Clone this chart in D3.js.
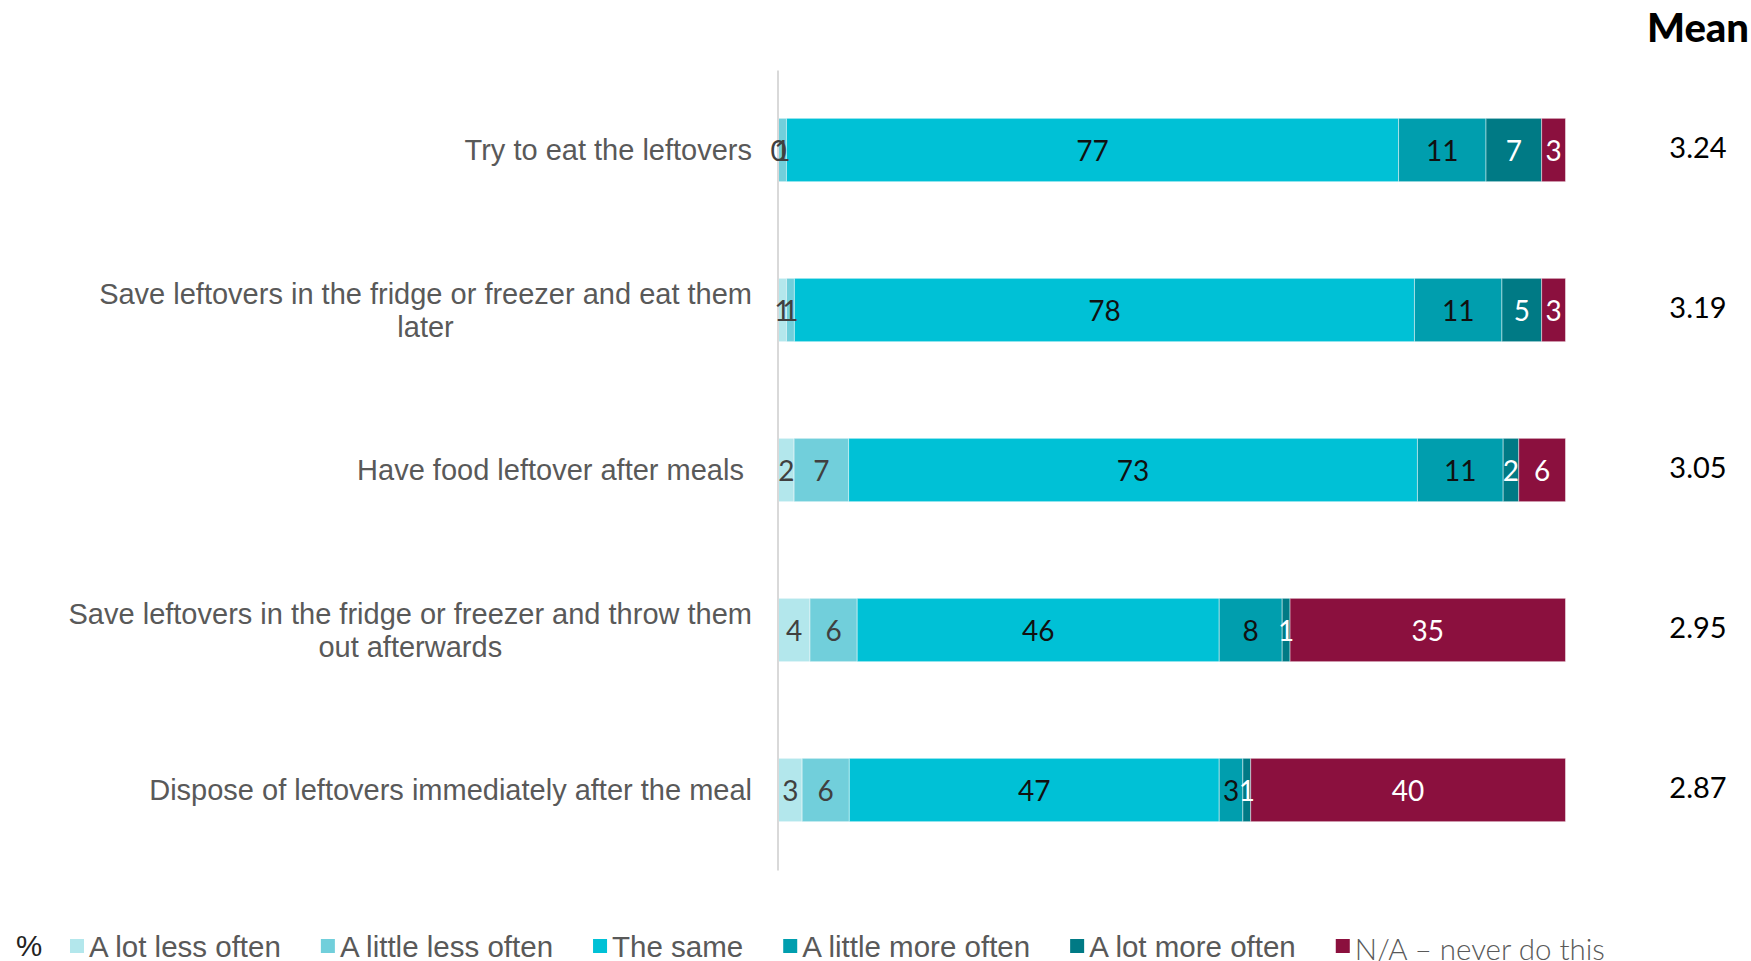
<!DOCTYPE html>
<html>
<head>
<meta charset="utf-8">
<script src="https://cdn.jsdelivr.net/npm/d3@7"></script>
<style>
  html, body { margin: 0; padding: 0; background: #fff; }
  svg { display: block; }
  .cat text { white-space: pre; }
</style>
</head>
<body>
<svg id="chart" width="1751" height="961"></svg>
<script>
// Behaviours asked about, with their answers split by frequency change (%)
const categories = [
  "Try to eat the leftovers",
  "Save leftovers in the fridge or freezer and eat them\nlater",
  "Have food leftover after meals ",
  "Save leftovers in the fridge or freezer and throw them\nout afterwards",
  "Dispose of leftovers immediately after the meal"
];
const seriesNames = [
  "A lot less often",
  "A little less often",
  "The same",
  "A little more often",
  "A lot more often",
  "N/A \u2013 never do this"
];
const aLotLess   = [0, 1, 2, 4, 3];
const aLittleLess = [1, 1, 7, 6, 6];
const theSame    = [77, 78, 73, 46, 47];
const aLittleMore = [11, 11, 11, 8, 3];
const aLotMore   = [7, 5, 2, 1, 1];
const notApplicable = [3, 3, 6, 35, 40];
const means = ["3.24", "3.19", "3.05", "2.95", "2.87"];

const seriesValues = [aLotLess, aLittleLess, theSame, aLittleMore, aLotMore, notApplicable];
const colors = ["#b3e7ec", "#71cfdb", "#00c1d6", "#009eae", "#007a85", "#8b103e"];
const labelColors = ["#404040", "#404040", "#111111", "#111111", "#ffffff", "#ffffff"];

const rows = categories.map((c, i) => {
  const r = { category: c };
  seriesNames.forEach((s, j) => { r[s] = seriesValues[j][i]; });
  return r;
});

const stack = d3.stack().keys(seriesNames).offset(d3.stackOffsetExpand);
const layers = stack(rows);

const svg = d3.select("#chart");

const x = d3.scaleLinear().domain([0, 1]).range([778.5, 1565.5]);
const y = d3.scaleBand().domain(categories).range([70, 870]).paddingInner(0.604).paddingOuter(0.302);

// Bars
const layerG = svg.append("g").selectAll("g")
  .data(layers).join("g")
  .attr("fill", (d, i) => colors[i]);

layerG.selectAll("rect")
  .data(d => d.map(v => ({ v, key: d.key })))
  .join("rect")
  .attr("x", d => x(d.v[0]))
  .attr("width", d => Math.max(0, x(d.v[1]) - x(d.v[0])))
  .attr("y", d => y(d.v.data.category))
  .attr("height", y.bandwidth())
  .attr("stroke", "#ffffff")
  .attr("stroke-opacity", 0.45)
  .attr("stroke-width", 1);

// Axis line on the left of the bars
svg.append("g")
  .attr("transform", `translate(${x(0) - 1},0)`)
  .call(d3.axisLeft(d3.scaleLinear().range([70, 870])).ticks(0).tickSize(0))
  .call(g => g.select(".domain").attr("stroke", "#d9d9d9").attr("stroke-width", 2));

// Value labels inside segments
layers.forEach((layer, i) => {
  svg.append("g").selectAll("text")
    .data(layer).join("text")
    .attr("x", d => (x(d[0]) + x(d[1])) / 2)
    .attr("y", d => y(d.data.category) + y.bandwidth() / 2)
    .attr("text-anchor", "middle")
    .attr("dominant-baseline", "central")
    .attr("font-family", "Lato, 'Open Sans', sans-serif")
    .attr("font-size", 28)
    .attr("fill", labelColors[i])
    .text(d => d.data[layer.key]);
});

// Category labels (right aligned block, lines centred)
const catG = svg.append("g")
  .attr("class", "cat")
  .attr("font-family", "'Liberation Sans', Arial, sans-serif")
  .attr("font-size", 29)
  .attr("fill", "#595959");

categories.forEach(c => {
  const lines = c.split("\n");
  const cy = y(c) + y.bandwidth() / 2;
  const lh = 33;
  const t = catG.append("text")
    .attr("dominant-baseline", "central");
  lines.forEach((ln, k) => {
    t.append("tspan").attr("y", cy + (k - (lines.length - 1) / 2) * lh).text(ln);
  });
  const tspans = t.selectAll("tspan").nodes();
  const maxW = d3.max(tspans, n => n.getComputedTextLength());
  const right = 752;
  tspans.forEach(n => {
    d3.select(n).attr("x", right - maxW / 2).attr("text-anchor", "middle");
  });
});

// Mean column
svg.append("text")
  .attr("x", 1749)
  .attr("y", 27)
  .attr("text-anchor", "end")
  .attr("dominant-baseline", "central")
  .attr("font-family", "Lato, sans-serif")
  .attr("font-weight", 900)
  .attr("font-size", 40)
  .attr("fill", "#000")
  .text("Mean");

svg.append("g").selectAll("text")
  .data(categories).join("text")
  .attr("x", 1698)
  .attr("y", (c, i) => y(c) + y.bandwidth() / 2 - 4)
  .attr("text-anchor", "middle")
  .attr("dominant-baseline", "central")
  .attr("font-family", "Lato, sans-serif")
  .attr("font-size", 29)
  .attr("fill", "#000")
  .text((c, i) => means[i]);

// Legend
const legendY = 945;
const legend = svg.append("g")
  .attr("font-family", "'Liberation Sans', Arial, sans-serif")
  .attr("font-size", 29.5);

legend.append("text")
  .attr("x", 16).attr("y", legendY)
  .attr("dominant-baseline", "central")
  .attr("fill", "#222")
  .text("%");

let lx = 70;
seriesNames.forEach((s, i) => {
  legend.append("rect")
    .attr("x", lx).attr("y", legendY - 6)
    .attr("width", 14).attr("height", 14)
    .attr("fill", colors[i]);
  const t = legend.append("text")
    .attr("x", lx + 19).attr("y", legendY + 1)
    .attr("dominant-baseline", "central")
    .attr("fill", "#595959")
    .text(s);
  if (i === seriesNames.length - 1) {
    t.attr("font-family", "Lato, sans-serif").attr("font-weight", 300).attr("y", legendY + 3);
  }
  lx += 19 + t.node().getComputedTextLength() + 40;
});
</script>
</body>
</html>
